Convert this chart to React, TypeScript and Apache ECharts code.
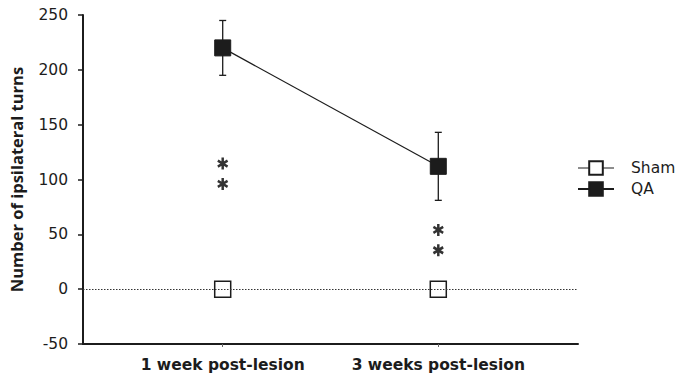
import React, { useEffect, useRef } from "react";
import * as echarts from "echarts";

const categories = ["1 week post-lesion", "3 weeks post-lesion"];
const categoryPos = [0, 1];
const shamValues = [0, 0];
const qaValues = [220, 112];
const qaErrors = [25, 31];
const sigX = [0, 0, 1, 1];
const sigY = [114.5, 96, 54, 35.5];
const yMin = -50;
const yMax = 250;
const yStep = 50;

const ASTERISK =
  "path://M-0.22 -1 L0.22 -1 L0.22 1 L-0.22 1 Z " +
  "M-0.756 -0.69 L0.976 0.31 L0.756 0.69 L-0.976 -0.31 Z " +
  "M-0.976 0.31 L0.756 -0.69 L0.976 -0.31 L-0.756 0.69 Z";

const INK = "#1c1c1c";
const FONT = "'DejaVu Sans', 'Liberation Sans', Arial, sans-serif";

export default function App() {
  const ref = useRef<HTMLDivElement>(null);
  useEffect(() => {
    if (!ref.current) return;
    const chart = echarts.init(ref.current, undefined, { renderer: "svg" });
    const errData = categoryPos.map((x, i) => [x, qaValues[i], qaErrors[i]]);
    const option: any = {
      animation: false,
      backgroundColor: "#ffffff",
      grid: { left: 82, right: 97, top: 15, bottom: 32, containLabel: false },
      legend: {
        orient: "vertical",
        left: 572,
        top: 155,
        itemWidth: 36,
        itemHeight: 17,
        itemGap: 5,
        textStyle: { fontSize: 15.5, fontFamily: FONT, color: INK, padding: [0, 0, 0, 12] },
        data: [
          { name: "Sham", lineStyle: { width: 1.2, color: INK, opacity: 1 } },
          { name: "QA" },
        ],
      },
      xAxis: {
        type: "value",
        min: -0.648,
        max: 1.648,
        splitLine: { show: false },
        axisLine: { show: true, onZero: false, lineStyle: { color: INK, width: 2 } },
        axisTick: { show: true, customValues: categoryPos, length: 3, lineStyle: { color: "#666", width: 1 } },
        axisLabel: {
          show: true,
          customValues: categoryPos,
          margin: 13,
          fontSize: 15.5,
          fontWeight: "bold",
          fontFamily: FONT,
          color: INK,
          formatter: (v: number) => categories[Math.round(v)] ?? "",
        },
      },
      yAxis: {
        type: "value",
        min: yMin,
        max: yMax,
        interval: yStep,
        splitLine: { show: false },
        axisLine: { show: true, onZero: false, lineStyle: { color: INK, width: 2 } },
        axisTick: { show: true, length: 5, lineStyle: { color: INK, width: 1.5 } },
        axisLabel: { margin: 15, fontSize: 15.5, fontFamily: FONT, color: INK },
        name: "Number of ipsilateral turns",
        nameLocation: "middle",
        nameGap: 58,
        nameTextStyle: { fontSize: 16.5, fontWeight: "bold", fontFamily: "'Open Sans', 'Liberation Sans', sans-serif", color: INK },
      },
      series: [
        {
          type: "custom",
          name: "errors",
          z: 1,
          data: errData,
          renderItem: (params: any, api: any) => {
            const x = api.value(0);
            const m = api.value(1);
            const e = api.value(2);
            const top = api.coord([x, m + e]);
            const bot = api.coord([x, m - e]);
            const h = 3.5;
            const style = { stroke: INK, lineWidth: 1.3 };
            return {
              type: "group",
              children: [
                { type: "line", shape: { x1: top[0], y1: top[1], x2: bot[0], y2: bot[1] }, style },
                { type: "line", shape: { x1: top[0] - h, y1: top[1], x2: top[0] + h, y2: top[1] }, style },
                { type: "line", shape: { x1: bot[0] - h, y1: bot[1], x2: bot[0] + h, y2: bot[1] }, style },
              ],
            };
          },
          markLine: {
            silent: true,
            symbol: "none",
            label: { show: false },
            lineStyle: { type: [1.5, 1.5], color: "#333", width: 1 },
            data: [{ yAxis: 0 }],
          },
        },
        {
          type: "line",
          name: "Sham",
          z: 3,
          data: categoryPos.map((x, i) => [x, shamValues[i]]),
          symbol: "rect",
          symbolSize: 16,
          showSymbol: true,
          lineStyle: { width: 0, color: INK, opacity: 0 },
          itemStyle: { color: "#ffffff", borderColor: INK, borderWidth: 1.5 },
        },
        {
          type: "line",
          name: "QA",
          z: 3,
          data: categoryPos.map((x, i) => [x, qaValues[i]]),
          symbol: "rect",
          symbolSize: 16,
          showSymbol: true,
          lineStyle: { width: 1.2, color: INK },
          itemStyle: { color: INK, borderColor: INK, borderWidth: 1 },
        },
        {
          type: "scatter",
          name: "sig",
          z: 4,
          data: sigX.map((x, i) => [x, sigY[i]]),
          symbol: ASTERISK,
          symbolSize: [11, 12],
          itemStyle: { color: "#000" },
        },
      ],
    };
    chart.setOption(option);
    return () => chart.dispose();
  }, []);
  return <div ref={ref} style={{ width: 675, height: 376, position: "absolute", left: 0, top: 0 }} />;
}
